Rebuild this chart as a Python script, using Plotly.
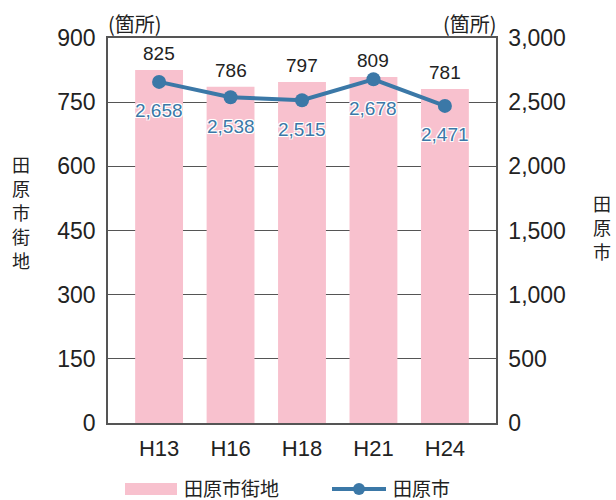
import plotly.graph_objects as go

# Survey years and counts (箇所)
years = ["H13", "H16", "H18", "H21", "H24"]
district_counts = [825, 786, 797, 809, 781]      # 田原市街地 (left axis)
city_counts = [2658, 2538, 2515, 2678, 2471]     # 田原市 (right axis)

left_ticks = [0, 150, 300, 450, 600, 750, 900]
right_ticks = [0, 500, 1000, 1500, 2000, 2500, 3000]

W, H = 616, 500
ML, MR, MT, MB = 108, 120, 38, 77
PW, PH = W - ML - MR, H - MT - MB

FONT = "Liberation Sans, Arial, Noto Sans CJK JP, sans-serif"
CJK = "Noto Sans CJK JP, sans-serif"
PINK = "#f8c1ce"
BLUE = "#3b78a7"
AXIS = "#555555"
INK = "#222222"


def px(x):
    return (x - ML) / PW


def py(y):
    return (H - MB - y) / PH


fig = go.Figure()

fig.add_trace(go.Bar(
    x=years, y=district_counts, name="田原市街地",
    marker=dict(color=PINK, line=dict(width=0)),
    width=0.67, yaxis="y", showlegend=False,
))

fig.add_trace(go.Scatter(
    x=years, y=city_counts, name="田原市", mode="lines+markers",
    line=dict(color=BLUE, width=4),
    marker=dict(color=BLUE, size=14),
    yaxis="y2", showlegend=False, cliponaxis=False,
))

annotations = []
outline = "-1px -1px 0 #fff, 1px -1px 0 #fff, -1px 1px 0 #fff, 1px 1px 0 #fff, 0 0 2px #fff"
for yr, v in zip(years, district_counts):
    annotations.append(dict(
        x=yr, y=v, xref="x", yref="y", text=str(v), showarrow=False,
        yanchor="bottom", yshift=4, font=dict(family=FONT, size=19, color=INK),
    ))
for yr, v in zip(years, city_counts):
    annotations.append(dict(
        x=yr, y=v, xref="x", yref="y2", text=f"{v:,}", showarrow=False,
        yanchor="middle", yshift=-29,
        font=dict(family=FONT, size=19, color=BLUE, shadow=outline),
    ))

# unit labels above both axes
annotations.append(dict(x=px(106), y=py(23), xref="paper", yref="paper",
                        text="(箇所)", showarrow=False, xanchor="left", yanchor="middle",
                        font=dict(family=CJK, size=20, color=INK)))
annotations.append(dict(x=px(499), y=py(23), xref="paper", yref="paper",
                        text="(箇所)", showarrow=False, xanchor="right", yanchor="middle",
                        font=dict(family=CJK, size=20, color=INK)))

# vertical axis titles, one character per line
for i, ch in enumerate("田原市街地"):
    annotations.append(dict(x=px(21), y=py(164 + 24 * i), xref="paper", yref="paper",
                            text=ch, showarrow=False, xanchor="center", yanchor="middle",
                            font=dict(family=CJK, size=18, color=INK)))
for i, ch in enumerate("田原市"):
    annotations.append(dict(x=px(602), y=py(203 + 24 * i), xref="paper", yref="paper",
                            text=ch, showarrow=False, xanchor="center", yanchor="middle",
                            font=dict(family=CJK, size=18, color=INK)))

# legend
annotations.append(dict(x=px(182), y=py(487.5), xref="paper", yref="paper",
                        text="田原市街地", showarrow=False, xanchor="left", yanchor="middle",
                        font=dict(family=CJK, size=19, color=INK)))
annotations.append(dict(x=px(391), y=py(487.5), xref="paper", yref="paper",
                        text="田原市", showarrow=False, xanchor="left", yanchor="middle",
                        font=dict(family=CJK, size=19, color=INK)))

shapes = [
    dict(type="rect", xref="paper", yref="paper",
         x0=px(125), x1=px(177), y0=py(495), y1=py(483),
         fillcolor=PINK, line=dict(width=0)),
    dict(type="line", xref="paper", yref="paper",
         x0=px(332), x1=px(386), y0=py(489), y1=py(489),
         line=dict(color=BLUE, width=4)),
    dict(type="circle", xref="paper", yref="paper",
         x0=px(353), x1=px(365), y0=py(495), y1=py(483),
         fillcolor=BLUE, line=dict(width=0)),
]

fig.update_layout(
    width=W, height=H,
    margin=dict(l=ML, r=MR, t=MT, b=MB, pad=0),
    paper_bgcolor="white", plot_bgcolor="white",
    font=dict(family=FONT, size=22, color=INK),
    bargap=0.33,
    xaxis=dict(
        range=[-0.715, 4.715], showline=True, linecolor=AXIS, linewidth=1.5,
        mirror=True, ticks="", showgrid=False, tickfont=dict(size=22, color=INK),
        ticklabelstandoff=5,
    ),
    yaxis=dict(
        range=[0, 900], tickvals=left_ticks, showline=True, linecolor=AXIS,
        linewidth=1.5, showgrid=True, gridcolor=AXIS, gridwidth=1.2,
        ticks="", zeroline=False, tickfont=dict(size=23, color=INK),
        ticklabelstandoff=6,
    ),
    yaxis2=dict(
        range=[0, 3000], tickvals=right_ticks, tickformat=",",
        overlaying="y", side="right", showline=True, linecolor=AXIS,
        linewidth=1.5, showgrid=False, ticks="", zeroline=False,
        tickfont=dict(size=23, color=INK), ticklabelstandoff=6,
    ),
    annotations=annotations,
    shapes=shapes,
)

fig.write_html("out.html")
